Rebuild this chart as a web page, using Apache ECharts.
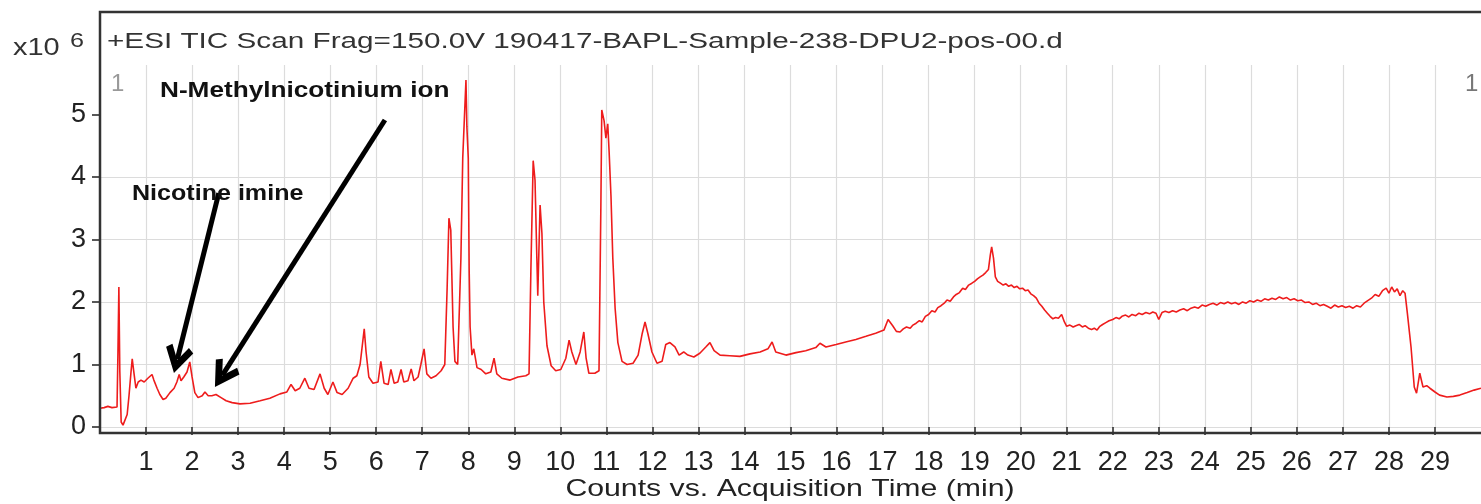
<!DOCTYPE html>
<html>
<head>
<meta charset="utf-8">
<title>TIC chromatogram</title>
<script src="https://cdn.jsdelivr.net/npm/echarts@6/dist/echarts.min.js"></script>
<style>
  html, body { margin: 0; padding: 0; background: #fff; }
  #chart { width: 1481px; height: 504px; }
</style>
</head>
<body>
<div id="chart"></div>
<script>
// acquisition time (min)
const times = [
  0.00, 0.09, 0.17, 0.26, 0.37, 0.39, 0.41, 0.43, 0.46, 0.50, 0.54, 0.59, 0.63, 0.67, 0.70, 0.74, 0.78, 0.83, 0.89, 0.96,
  1.04, 1.13, 1.17, 1.24, 1.30, 1.37, 1.43, 1.52, 1.61, 1.67, 1.72, 1.76, 1.82, 1.89, 1.95, 2.00, 2.06, 2.13, 2.22, 2.28,
  2.35, 2.43, 2.52, 2.56, 2.63, 2.74, 2.87, 3.04, 3.26, 3.48, 3.69, 3.91, 4.06, 4.15, 4.24, 4.34, 4.45, 4.54, 4.65, 4.78,
  4.87, 4.95, 5.06, 5.15, 5.26, 5.39, 5.50, 5.58, 5.65, 5.74, 5.78, 5.84, 5.93, 6.04, 6.10, 6.17, 6.26, 6.32, 6.39, 6.47,
  6.54, 6.60, 6.69, 6.76, 6.82, 6.91, 6.97, 7.04, 7.10, 7.19, 7.30, 7.41, 7.49, 7.54, 7.58, 7.62, 7.67, 7.71, 7.77, 7.84,
  7.88, 7.95, 7.97, 8.00, 8.02, 8.04, 8.08, 8.12, 8.19, 8.28, 8.38, 8.49, 8.56, 8.62, 8.73, 8.91, 9.08, 9.25, 9.32, 9.36,
  9.41, 9.45, 9.49, 9.51, 9.56, 9.60, 9.64, 9.71, 9.80, 9.90, 10.01, 10.12, 10.19, 10.25, 10.34, 10.43, 10.51, 10.56, 10.62, 10.75,
  10.84, 10.88, 10.90, 10.95, 10.99, 11.01, 11.03, 11.06, 11.10, 11.14, 11.19, 11.25, 11.34, 11.45, 11.58, 11.69, 11.78, 11.84, 11.90, 11.99,
  12.10, 12.21, 12.29, 12.38, 12.49, 12.58, 12.68, 12.77, 12.90, 13.03, 13.16, 13.25, 13.34, 13.47, 13.68, 13.90, 14.12, 14.34, 14.51, 14.60,
  14.68, 14.90, 15.12, 15.33, 15.55, 15.64, 15.77, 15.99, 16.20, 16.42, 16.64, 16.85, 17.03, 17.12, 17.22, 17.30, 17.38, 17.45, 17.52, 17.60,
  17.66, 17.73, 17.80, 17.86, 17.93, 18.00, 18.07, 18.14, 18.20, 18.27, 18.34, 18.40, 18.47, 18.54, 18.60, 18.67, 18.74, 18.80, 18.87, 18.94,
  19.00, 19.06, 19.12, 19.18, 19.24, 19.30, 19.34, 19.37, 19.41, 19.45, 19.50, 19.56, 19.62, 19.68, 19.74, 19.80, 19.86, 19.92, 19.98, 20.04,
  20.10, 20.16, 20.22, 20.28, 20.34, 20.40, 20.46, 20.52, 20.58, 20.64, 20.70, 20.76, 20.82, 20.89, 20.95, 21.00, 21.07, 21.14, 21.20, 21.27,
  21.34, 21.40, 21.47, 21.54, 21.60, 21.66, 21.72, 21.78, 21.85, 21.92, 22.00, 22.07, 22.14, 22.20, 22.28, 22.35, 22.42, 22.50, 22.57, 22.64,
  22.72, 22.80, 22.87, 22.94, 23.00, 23.07, 23.14, 23.22, 23.30, 23.38, 23.46, 23.54, 23.62, 23.70, 23.78, 23.86, 23.94, 24.02, 24.10, 24.18,
  24.26, 24.34, 24.42, 24.50, 24.58, 24.66, 24.74, 24.82, 24.90, 24.98, 25.06, 25.14, 25.22, 25.30, 25.38, 25.46, 25.54, 25.62, 25.70, 25.78,
  25.86, 25.94, 26.02, 26.10, 26.18, 26.26, 26.34, 26.42, 26.50, 26.58, 26.66, 26.74, 26.82, 26.90, 26.98, 27.06, 27.14, 27.22, 27.30, 27.38,
  27.46, 27.54, 27.62, 27.70, 27.78, 27.86, 27.94, 28.00, 28.06, 28.12, 28.18, 28.24, 28.30, 28.35, 28.40, 28.48, 28.55, 28.60, 28.67, 28.74,
  28.82, 28.89, 29.00, 29.10, 29.26, 29.40, 29.54, 29.70, 29.85, 30.00
]
// TIC counts (x10^6)
const counts = [
  0.30, 0.31, 0.33, 0.31, 0.32, 1.20, 2.24, 0.90, 0.08, 0.03, 0.06, 0.20, 0.50, 0.85, 1.09, 0.85, 0.62, 0.72, 0.75, 0.72,
  0.78, 0.84, 0.75, 0.62, 0.52, 0.44, 0.46, 0.55, 0.62, 0.72, 0.84, 0.74, 0.80, 0.88, 1.04, 0.80, 0.55, 0.47, 0.50, 0.56,
  0.50, 0.50, 0.52, 0.55, 0.47, 0.42, 0.39, 0.37, 0.38, 0.42, 0.46, 0.53, 0.56, 0.68, 0.58, 0.62, 0.78, 0.62, 0.60, 0.85,
  0.62, 0.52, 0.72, 0.55, 0.52, 0.62, 0.78, 0.82, 1.00, 1.57, 1.20, 0.80, 0.70, 0.72, 1.05, 0.70, 0.68, 0.92, 0.70, 0.72,
  0.92, 0.72, 0.74, 0.93, 0.74, 0.80, 1.00, 1.25, 0.85, 0.78, 0.82, 0.90, 1.00, 2.20, 3.34, 3.15, 1.60, 1.05, 1.00, 2.70,
  4.30, 5.55, 4.80, 4.30, 2.50, 1.60, 1.15, 1.25, 0.95, 0.92, 0.85, 0.88, 1.10, 0.85, 0.78, 0.75, 0.80, 0.82, 0.85, 2.50,
  4.26, 3.95, 2.70, 2.10, 3.55, 3.10, 2.00, 1.30, 0.98, 0.90, 0.92, 1.10, 1.39, 1.20, 1.00, 1.20, 1.52, 1.10, 0.86, 0.86,
  0.90, 3.50, 5.07, 4.90, 4.62, 4.62, 4.85, 4.40, 3.70, 2.70, 1.90, 1.35, 1.05, 1.00, 1.02, 1.15, 1.50, 1.68, 1.50, 1.20,
  1.02, 1.05, 1.32, 1.35, 1.28, 1.15, 1.20, 1.15, 1.12, 1.18, 1.28, 1.35, 1.22, 1.15, 1.14, 1.13, 1.17, 1.20, 1.25, 1.36,
  1.20, 1.15, 1.19, 1.22, 1.27, 1.34, 1.28, 1.32, 1.36, 1.40, 1.45, 1.50, 1.55, 1.72, 1.62, 1.53, 1.52, 1.57, 1.60, 1.58,
  1.63, 1.66, 1.70, 1.68, 1.77, 1.80, 1.86, 1.84, 1.91, 1.94, 1.98, 2.03, 2.01, 2.08, 2.12, 2.15, 2.22, 2.20, 2.27, 2.30,
  2.33, 2.37, 2.40, 2.43, 2.47, 2.52, 2.75, 2.88, 2.70, 2.40, 2.33, 2.30, 2.27, 2.29, 2.25, 2.27, 2.23, 2.25, 2.21, 2.22,
  2.18, 2.19, 2.13, 2.10, 2.06, 1.98, 1.93, 1.87, 1.82, 1.77, 1.73, 1.75, 1.74, 1.80, 1.68, 1.61, 1.63, 1.60, 1.62, 1.64,
  1.60, 1.62, 1.58, 1.56, 1.58, 1.55, 1.61, 1.64, 1.67, 1.70, 1.72, 1.75, 1.73, 1.77, 1.79, 1.76, 1.80, 1.78, 1.82, 1.80,
  1.83, 1.81, 1.84, 1.82, 1.72, 1.83, 1.85, 1.83, 1.86, 1.84, 1.87, 1.89, 1.86, 1.90, 1.92, 1.90, 1.95, 1.93, 1.96, 1.98,
  1.95, 1.99, 1.97, 2.00, 1.97, 1.99, 1.96, 2.00, 1.98, 2.02, 2.00, 2.03, 2.01, 2.05, 2.03, 2.06, 2.04, 2.08, 2.05, 2.07,
  2.03, 2.05, 2.02, 2.03, 1.99, 2.00, 1.96, 1.98, 1.94, 1.96, 1.93, 1.90, 1.95, 1.92, 1.94, 1.91, 1.93, 1.90, 1.94, 1.92,
  1.98, 2.02, 2.06, 2.12, 2.09, 2.18, 2.22, 2.14, 2.24, 2.16, 2.21, 2.10, 2.18, 2.14, 1.82, 1.28, 0.64, 0.54, 0.86, 0.64,
  0.66, 0.62, 0.56, 0.51, 0.48, 0.49, 0.51, 0.55, 0.59, 0.62
]
const yTicks = [0, 1, 2, 3, 4, 5]
const xTicks = [1, 2, 3, 4, 5, 6, 7, 8, 9, 10, 11, 12, 13, 14, 15, 16, 17, 18, 19, 20, 21, 22, 23, 24, 25, 26, 27, 28, 29]

const annotations = ['Nicotine imine', 'N-Methylnicotinium ion']
const arrowTails = [[2.58, 3.74], [6.19, 4.91]]
const arrowHeads = [[1.68, 1.08], [2.66, 0.83]]

const chart = echarts.init(document.getElementById('chart'))
const font = '"Liberation Sans", Arial, sans-serif'
// open chevron head, tip at top
const chevron = 'path://M14,0 L28,22 L22.5,26 L14,12.5 L5.5,26 L0,22 Z'

const option = {
  animation: false,
  grid: { left: 100, right: 0, top: 65, bottom: 77 },
  xAxis: {
    type: 'value',
    min: 0,
    max: 30,
    interval: 1,
    offset: 6,
    axisLine: { show: false },
    axisTick: { show: true, length: 8, customValues: xTicks, lineStyle: { color: '#222', width: 1.5 } },
    axisLabel: { customValues: xTicks, margin: 16, color: '#222', fontSize: 27, fontFamily: font },
    splitLine: { show: true, lineStyle: { color: '#dcdcdc', width: 1.2 } }
  },
  yAxis: {
    type: 'value',
    min: 0,
    max: 5.79,
    interval: 1,
    axisLine: { show: false },
    axisTick: { show: true, length: 8, customValues: yTicks, lineStyle: { color: '#222', width: 1.5 } },
    axisLabel: { customValues: yTicks, margin: 14, color: '#222', fontSize: 27, fontFamily: font },
    splitLine: { show: true, showMaxLine: false, lineStyle: { color: '#dcdcdc', width: 1.2 } }
  },
  series: [{
    type: 'line',
    data: times.map((t, i) => [t, counts[i]]),
    symbol: 'none',
    lineStyle: { color: '#ee1c1c', width: 1.6 },
    markLine: {
      silent: true,
      animation: false,
      symbol: ['none', chevron],
      symbolSize: [28, 28],
      lineStyle: { color: '#000', width: 5, type: 'solid' },
      label: { show: false },
      emphasis: { disabled: true },
      data: arrowTails.map((s, i) => [{ coord: s }, { coord: arrowHeads[i] }])
    }
  }],
  graphic: [
    { type: 'polyline', z: 50, shape: { points: [[1490, 12], [100, 12], [100, 433], [1490, 433]] },
      style: { stroke: '#333', lineWidth: 2.5, fill: null } },
    { type: 'text', z: 60, x: 107, y: 42, scaleX: 1.35,
      style: { text: '+ESI TIC Scan Frag=150.0V 190417-BAPL-Sample-238-DPU2-pos-00.d', font: '22px ' + font, fill: '#333', textVerticalAlign: 'middle' } },
    { type: 'text', z: 60, x: 13, y: 49, scaleX: 1.26,
      style: { text: 'x10', font: '23px ' + font, fill: '#333', textVerticalAlign: 'middle' } },
    { type: 'text', z: 60, x: 70, y: 41, scaleX: 1.2,
      style: { text: '6', font: '21px ' + font, fill: '#333', textVerticalAlign: 'middle' } },
    { type: 'text', z: 60, x: 111, y: 84,
      style: { text: '1', font: '24px ' + font, fill: '#999', textVerticalAlign: 'middle' } },
    { type: 'text', z: 60, x: 1465, y: 84,
      style: { text: '1', font: '24px ' + font, fill: '#777', textVerticalAlign: 'middle' } },
    { type: 'text', z: 60, x: 132, y: 194, scaleX: 1.14,
      style: { text: annotations[0], font: 'bold 22px ' + font, fill: '#111', textVerticalAlign: 'middle' } },
    { type: 'text', z: 60, x: 160, y: 91, scaleX: 1.19,
      style: { text: annotations[1], font: 'bold 22px ' + font, fill: '#111', textVerticalAlign: 'middle' } },
    { type: 'text', z: 60, x: 790, y: 489, scaleX: 1.26,
      style: { text: 'Counts vs. Acquisition Time (min)', font: '24px ' + font, fill: '#222', textAlign: 'center', textVerticalAlign: 'middle' } }
  ]
}

chart.setOption(option)
</script>
</body>
</html>
